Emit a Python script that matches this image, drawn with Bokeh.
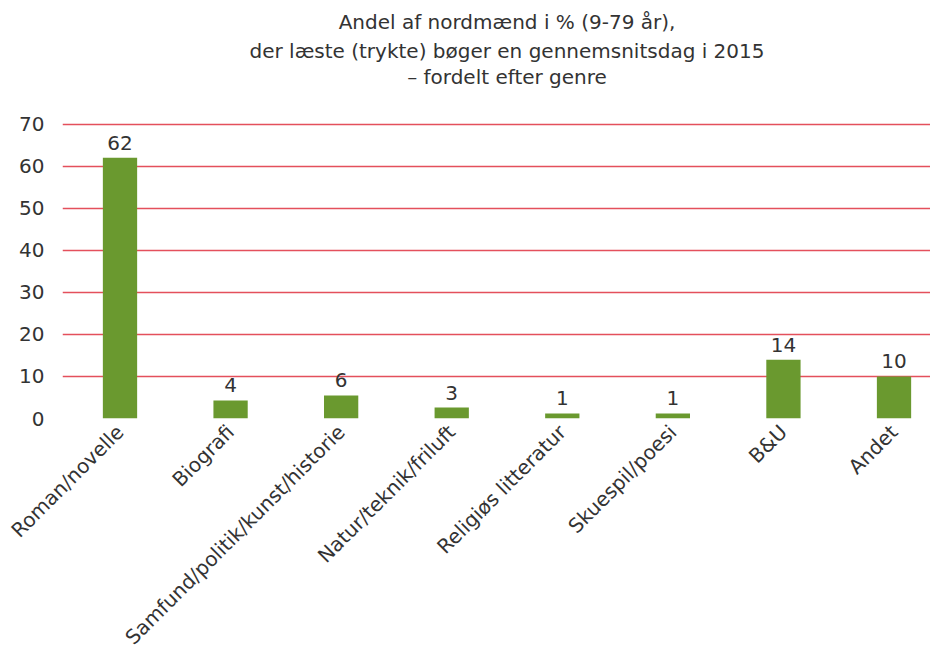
import math
from bokeh.plotting import figure
from bokeh.models import Range1d, FixedTicker, Label, ColumnDataSource, LabelSet
from bokeh.embed import file_html
from bokeh.resources import INLINE
from bokeh.core.properties import value

title_lines = [
    "Andel af nordmænd i % (9-79 år),",
    "der læste (trykte) bøger en gennemsnitsdag i 2015",
    "– fordelt efter genre",
]
categories = [
    "Roman/novelle",
    "Biografi",
    "Samfund/politik/kunst/historie",
    "Natur/teknik/friluft",
    "Religiøs litteratur",
    "Skuespil/poesi",
    "B&U",
    "Andet",
]
values = [62.1, 4.3, 5.5, 2.6, 1.2, 1.2, 14.0, 10.0]
value_labels = ["62", "4", "6", "3", "1", "1", "14", "10"]
y_ticks = [0, 10, 20, 30, 40, 50, 60, 70]

FONT = "DejaVu Sans"
TXT = "#333333"

xs = list(range(len(categories)))
src = ColumnDataSource(dict(x=xs, top=values, lab=value_labels))

p = figure(width=930, height=667, output_backend="svg", toolbar_location=None,
           x_range=Range1d(-0.52, 7.33), y_range=Range1d(0, 99.52),
           min_border_left=62, min_border_right=0, min_border_top=0,
           min_border_bottom=249)
p.outline_line_color = None
p.background_fill_color = "white"

p.vbar(x="x", top="top", bottom=0, width=0.31, source=src,
       fill_color="#6a992f", line_color=None)

p.add_layout(LabelSet(x="x", y="top", text="lab", source=src, y_offset=8,
                      text_align="center", text_baseline="bottom",
                      text_font=value(FONT), text_font_size="20px",
                      text_color=TXT))

# axes
p.xaxis.ticker = FixedTicker(ticks=xs)
p.xaxis.major_label_overrides = {i: c for i, c in enumerate(categories)}
p.xaxis.major_label_orientation = math.pi / 4
p.xaxis.axis_line_color = None
p.xaxis.major_tick_line_color = None
p.xaxis.minor_tick_line_color = None
p.xaxis.major_label_text_font = FONT
p.xaxis.major_label_text_font_size = "20px"
p.xaxis.major_label_text_color = TXT
p.xaxis.major_label_standoff = 4

p.yaxis.ticker = FixedTicker(ticks=y_ticks)
p.yaxis.axis_line_color = None
p.yaxis.major_tick_line_color = None
p.yaxis.minor_tick_line_color = None
p.yaxis.major_label_text_font = FONT
p.yaxis.major_label_text_font_size = "20px"
p.yaxis.major_label_text_color = TXT
p.yaxis.major_label_standoff = 12

p.xgrid.grid_line_color = None
p.ygrid.ticker = FixedTicker(ticks=y_ticks)
p.ygrid.grid_line_color = "#e4505c"
p.ygrid.grid_line_width = 1.3

title_y = [94.4, 87.4, 81.4]
for line, ty in zip(title_lines, title_y):
    p.add_layout(Label(x=3.5, y=ty, text=line, text_align="center",
                       text_baseline="middle", text_font=FONT,
                       text_font_size="20px", text_color=TXT))

open("out.html", "w").write(file_html(p, INLINE))
